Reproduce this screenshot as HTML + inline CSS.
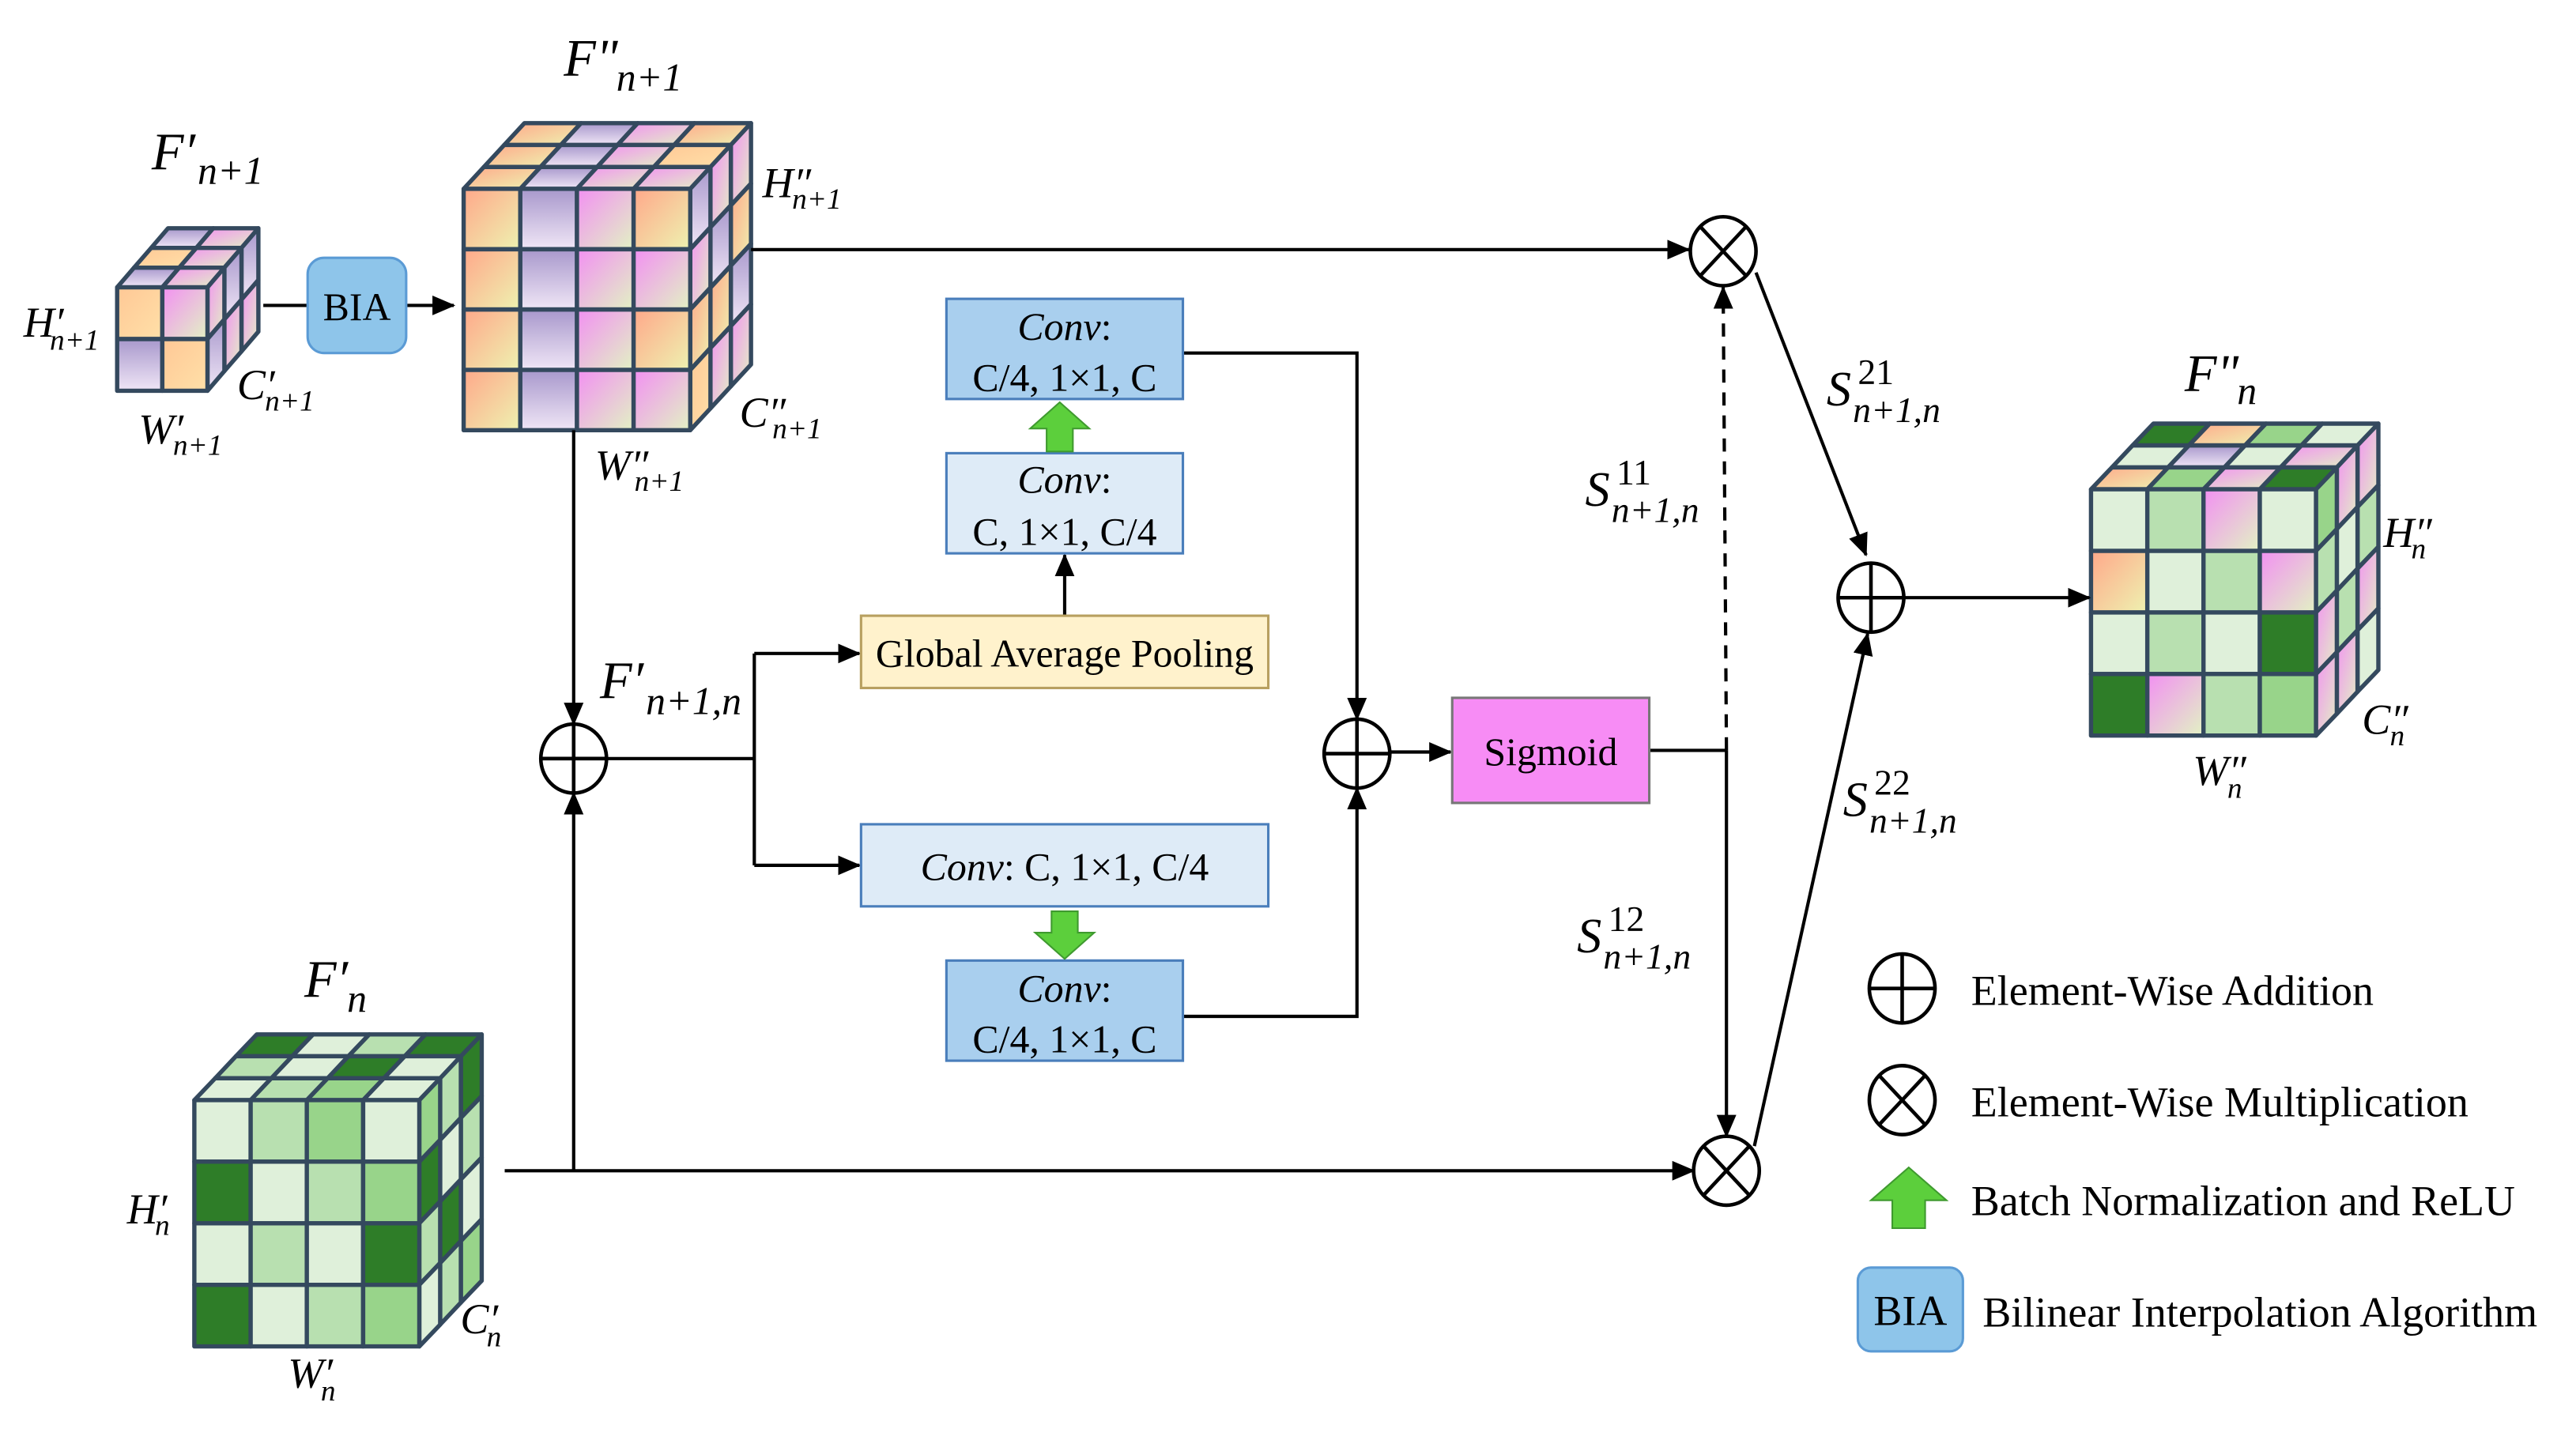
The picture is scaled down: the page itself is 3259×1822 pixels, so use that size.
<!DOCTYPE html>
<html><head><meta charset="utf-8"><style>
html,body{margin:0;padding:0;background:#fff}
svg{display:block}
.m{font-family:"Liberation Serif",serif;font-style:italic;fill:#000}
.t{font-family:"Liberation Serif",serif;fill:#000}
</style></head><body>
<svg id="s" width="3259" height="1822" viewBox="0 0 1568 877" xmlns="http://www.w3.org/2000/svg">
<defs>
<marker id="a" markerUnits="userSpaceOnUse" markerWidth="14" markerHeight="14" refX="13" refY="7" orient="auto"><path d="M0,1 L14,7 L0,13 z" fill="#000"/></marker>
<linearGradient id="gP" x1="0" y1="0" x2="1" y2="1"><stop offset="0" stop-color="#ffa88a"/><stop offset="1" stop-color="#eef2b0"/></linearGradient>
<linearGradient id="gV" x1="0" y1="0" x2="0" y2="1"><stop offset="0" stop-color="#a898cc"/><stop offset="1" stop-color="#f0e6f6"/></linearGradient>
<linearGradient id="gK" x1="0" y1="0" x2="1" y2="1"><stop offset="0" stop-color="#f290f2"/><stop offset="1" stop-color="#e2f2c4"/></linearGradient>
<linearGradient id="gO" x1="0" y1="0" x2="1" y2="1"><stop offset="0" stop-color="#ffc896"/><stop offset="1" stop-color="#ffe0a8"/></linearGradient>
</defs>
<rect width="1568" height="877" fill="#fff"/>
<g id="cubes"></g>

<!-- connectors -->
<g stroke="#000" stroke-width="2" fill="none">
<line x1="160" y1="186" x2="187" y2="186"/>
<line x1="247" y1="186" x2="276" y2="186" marker-end="url(#a)"/>
<line x1="457" y1="152" x2="1028" y2="152" marker-end="url(#a)"/>
<line x1="349" y1="262" x2="349" y2="441" marker-end="url(#a)"/>
<line x1="369" y1="462" x2="459" y2="462"/>
<polyline points="459,398 459,527"/>
<line x1="459" y1="398" x2="523" y2="398" marker-end="url(#a)"/>
<line x1="459" y1="527" x2="523" y2="527" marker-end="url(#a)"/>
<line x1="648" y1="375" x2="648" y2="338" marker-end="url(#a)"/>
<polyline points="720,215 826,215 826,438" marker-end="url(#a)"/>
<polyline points="720,619 826,619 826,480" marker-end="url(#a)"/>
<line x1="846" y1="458" x2="883" y2="458" marker-end="url(#a)"/>
<line x1="1004" y1="457" x2="1051" y2="457"/>
<line x1="1051" y1="457" x2="1049" y2="175" stroke-dasharray="8,6" marker-end="url(#a)"/>
<line x1="1051" y1="457" x2="1051" y2="692" marker-end="url(#a)"/>
<line x1="307" y1="713" x2="1031" y2="713" marker-end="url(#a)"/>
<line x1="349" y1="713" x2="349" y2="483" marker-end="url(#a)"/>
<line x1="1069" y1="166" x2="1136" y2="338" marker-end="url(#a)"/>
<line x1="1068" y1="698" x2="1137" y2="386" marker-end="url(#a)"/>
<line x1="1159" y1="364" x2="1272" y2="364" marker-end="url(#a)"/>
</g>

<!-- operators -->
<g stroke="#000" stroke-width="2.2" fill="#fff">
<ellipse cx="349" cy="462" rx="20" ry="21"/><path d="M329,462H369M349,441V483"/>
<ellipse cx="826" cy="459" rx="20" ry="21"/><path d="M806,459H846M826,438V480"/>
<ellipse cx="1139" cy="364" rx="20" ry="21"/><path d="M1119,364H1159M1139,343V385"/>
<ellipse cx="1049" cy="153" rx="20" ry="21"/><path d="M1035,138L1063,168M1063,138L1035,168"/>
<ellipse cx="1051" cy="713" rx="20" ry="21"/><path d="M1037,698L1065,728M1065,698L1037,728"/>
<ellipse cx="1158" cy="602" rx="20" ry="21"/><path d="M1138,602H1178M1158,581V623"/>
<ellipse cx="1158" cy="670" rx="20" ry="21"/><path d="M1144,655L1172,685M1172,655L1144,685"/>
</g>

<!-- boxes -->
<rect x="187" y="157" width="60" height="58" rx="10" fill="#8ec5ea" stroke="#5b9bd5" stroke-width="1.5"/>
<text class="t" x="217" y="195" font-size="24" text-anchor="middle">BIA</text>
<rect x="576" y="182" width="144" height="61" fill="#a9cfee" stroke="#4a7ebb" stroke-width="1.5"/>
<text x="648" y="207" font-size="24" text-anchor="middle"><tspan class="m">Conv</tspan><tspan class="t">:</tspan></text>
<text class="t" x="648" y="238" font-size="24" text-anchor="middle">C/4, 1×1, C</text>
<rect x="576" y="276" width="144" height="61" fill="#deebf7" stroke="#4a7ebb" stroke-width="1.5"/>
<text x="648" y="300" font-size="24" text-anchor="middle"><tspan class="m">Conv</tspan><tspan class="t">:</tspan></text>
<text class="t" x="648" y="332" font-size="24" text-anchor="middle">C, 1×1, C/4</text>
<rect x="524" y="375" width="248" height="44" fill="#fff2cc" stroke="#b8a060" stroke-width="1.5"/>
<text class="t" x="648" y="406" font-size="24" text-anchor="middle">Global Average Pooling</text>
<rect x="524" y="502" width="248" height="50" fill="#deebf7" stroke="#4a7ebb" stroke-width="1.5"/>
<text x="648" y="536" font-size="24" text-anchor="middle"><tspan class="m">Conv</tspan><tspan class="t">: C, 1×1, C/4</tspan></text>
<rect x="576" y="585" width="144" height="61" fill="#a9cfee" stroke="#4a7ebb" stroke-width="1.5"/>
<text x="648" y="610" font-size="24" text-anchor="middle"><tspan class="m">Conv</tspan><tspan class="t">:</tspan></text>
<text class="t" x="648" y="641" font-size="24" text-anchor="middle">C/4, 1×1, C</text>
<rect x="884" y="425" width="120" height="64" fill="#f78cf5" stroke="#777" stroke-width="1.5"/>
<text class="t" x="944" y="466" font-size="24" text-anchor="middle">Sigmoid</text>

<!-- green arrows -->
<g fill="#5ccf3c" stroke="#3f9a2f" stroke-width="1">
<polygon points="645,245 663,261 653,261 653,275 637,275 637,261 627,261"/>
<polygon points="648,584 666,568 656,568 656,555 640,555 640,568 630,568"/>
<polygon points="1162,711 1185,731 1172,731 1172,748 1152,748 1152,731 1139,731"/>
</g>

<!-- legend -->
<text class="t" x="1200" y="612" font-size="26">Element-Wise Addition</text>
<text class="t" x="1200" y="680" font-size="26">Element-Wise Multiplication</text>
<text class="t" x="1200" y="740" font-size="26">Batch Normalization and ReLU</text>
<rect x="1131" y="772" width="64" height="51" rx="8" fill="#8ec5ea" stroke="#5b9bd5" stroke-width="1.5"/>
<text class="t" x="1163" y="807" font-size="26" text-anchor="middle">BIA</text>
<text class="t" x="1207" y="808" font-size="26">Bilinear Interpolation Algorithm</text>

<!-- math labels -->
<text class="m" x="92" y="103" font-size="32">F′</text><text class="m" x="120" y="112" font-size="24">n+1</text>
<text class="m" x="343" y="46" font-size="32">F"</text><text class="m" x="375" y="55" font-size="24">n+1</text>
<text class="m" x="14" y="205" font-size="26">H′</text><text class="m" x="30" y="213" font-size="18">n+1</text>
<text class="m" x="144" y="243" font-size="26">C′</text><text class="m" x="161" y="250" font-size="18">n+1</text>
<text class="m" x="84" y="270" font-size="26">W′</text><text class="m" x="105" y="277" font-size="18">n+1</text>
<text class="m" x="464" y="120" font-size="26">H″</text><text class="m" x="482" y="127" font-size="18">n+1</text>
<text class="m" x="450" y="260" font-size="26">C″</text><text class="m" x="470" y="267" font-size="18">n+1</text>
<text class="m" x="362" y="292" font-size="26">W″</text><text class="m" x="386" y="299" font-size="18">n+1</text>
<text class="m" x="365" y="425" font-size="32">F′</text><text class="m" x="393" y="435" font-size="24">n+1,n</text>
<text class="m" x="185" y="607" font-size="32">F′</text><text class="m" x="211" y="616" font-size="24">n</text>
<text class="m" x="77" y="745" font-size="26">H′</text><text class="m" x="94" y="752" font-size="18">n</text>
<text class="m" x="280" y="812" font-size="26">C′</text><text class="m" x="296" y="820" font-size="18">n</text>
<text class="m" x="175" y="845" font-size="26">W′</text><text class="m" x="195" y="853" font-size="18">n</text>
<text class="m" x="1330" y="238" font-size="32">F"</text><text class="m" x="1362" y="246" font-size="24">n</text>
<text class="m" x="1451" y="333" font-size="26">H″</text><text class="m" x="1468" y="340" font-size="18">n</text>
<text class="m" x="1438" y="447" font-size="26">C″</text><text class="m" x="1455" y="454" font-size="18">n</text>
<text class="m" x="1335" y="478" font-size="26">W″</text><text class="m" x="1356" y="486" font-size="18">n</text>
<text class="m" x="1112" y="247" font-size="30">S</text><text class="t" x="1131" y="234" font-size="22">21</text><text class="m" x="1128" y="257" font-size="22">n+1,n</text>
<text class="m" x="965" y="308" font-size="30">S</text><text class="t" x="984" y="295" font-size="22">11</text><text class="m" x="981" y="318" font-size="22">n+1,n</text>
<text class="m" x="960" y="580" font-size="30">S</text><text class="t" x="979" y="567" font-size="22">12</text><text class="m" x="976" y="590" font-size="22">n+1,n</text>
<text class="m" x="1122" y="497" font-size="30">S</text><text class="t" x="1141" y="484" font-size="22">22</text><text class="m" x="1138" y="507" font-size="22">n+1,n</text>
</svg>
<script>
(function(){
var g=document.getElementById('cubes'),ns='http://www.w3.org/2000/svg';
function poly(pts,fill){var p=document.createElementNS(ns,'polygon');p.setAttribute('points',pts.map(function(q){return q[0].toFixed(1)+','+q[1].toFixed(1)}).join(' '));p.setAttribute('fill',fill);p.setAttribute('stroke','#34495e');p.setAttribute('stroke-width','2.6');p.setAttribute('stroke-linejoin','round');g.appendChild(p);}
function cube(x,y,w,h,cols,rows,d,dx,dy,front,top,side){
 var cw=w/cols,rh=h/rows,ex=dx/d,ey=dy/d,i,j,k=0;
 for(j=d-1;j>=0;j--)for(i=0;i<cols;i++){
  poly([[x+i*cw+j*ex,y-j*ey],[x+(i+1)*cw+j*ex,y-j*ey],[x+(i+1)*cw+(j+1)*ex,y-(j+1)*ey],[x+i*cw+(j+1)*ex,y-(j+1)*ey]],top[(k++)%top.length]);}
 k=0;
 for(j=d-1;j>=0;j--)for(i=0;i<rows;i++){
  poly([[x+w+j*ex,y+i*rh-j*ey],[x+w+(j+1)*ex,y+i*rh-(j+1)*ey],[x+w+(j+1)*ex,y+(i+1)*rh-(j+1)*ey],[x+w+j*ex,y+(i+1)*rh-j*ey]],side[(k++)%side.length]);}
 k=0;
 for(i=0;i<rows;i++)for(j=0;j<cols;j++){poly([[x+j*cw,y+i*rh],[x+(j+1)*cw,y+i*rh],[x+(j+1)*cw,y+(i+1)*rh],[x+j*cw,y+(i+1)*rh]],front[(k++)%front.length]);}
}
var P='url(#gP)',V='url(#gV)',K='url(#gK)',O='url(#gO)';
var D='#2e7d28',M='#98d48a',L='#b8e0b0',E='#dff0da';
cube(71,175,55,63,2,2,3,31,36,[O,K,V,O],[V,K,O,K,V,K],[V,K,V,K,K,V]);
cube(282,115,138,147,4,4,3,37,40,[P,V,K,P,P,V,K,K,P,V,K,P,P,V,K,K],[P,V,K,P,P,V,K,O,P,V,K,K],[K,P,V,K,K,V,P,K,V,K,P,O]);
cube(118,670,137,150,4,4,3,38,40,[E,L,M,E,D,E,L,M,E,L,E,D,D,E,L,M],[D,E,L,D,L,E,D,E,E,L,M,E],[D,L,E,M,L,E,D,L,M,D,L,E]);
cube(1273,298,137,150,4,4,3,38,40,[E,L,K,E,P,E,L,K,E,L,E,D,D,K,L,M],[D,P,M,E,E,V,E,K,P,M,K,D],[K,L,K,E,K,E,L,K,M,L,K,K]);
})();
</script>
</body></html>
